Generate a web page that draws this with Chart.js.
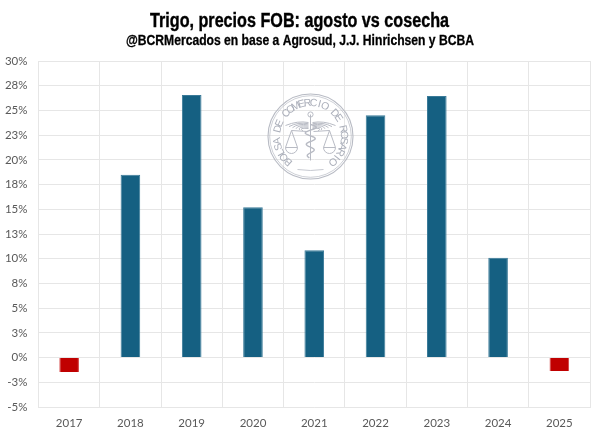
<!DOCTYPE html>
<html><head><meta charset="utf-8">
<style>html,body{margin:0;padding:0;background:#fff}canvas{display:block}</style>
<script src="https://cdn.jsdelivr.net/npm/chart.js@4"></script>
</head><body><canvas id="c" width="600" height="436"></canvas>
<script>
const categories=["2017","2018","2019","2020","2021","2022","2023","2024","2025"];
const values=[-1.45,18.5,26.55,15.2,10.85,24.5,26.45,10.1,-1.35];
const yTickLabels=["30%","28%","25%","23%","20%","18%","15%","13%","10%","8%","5%","3%","0%","-3%","-5%"];
const titleText="Trigo, precios FOB: agosto vs cosecha";
const subtitleText="@BCRMercados en base a Agrosud, J.J. Hinrichsen y BCBA";
const sealText="BOLSA DE COMERCIO DE ROSARIO";
const POS="#156082",NEG="#C00000",POSB="#3A7A98",NEGB="#D23A3A",GRID="#E6E6E6",TICK="#595959";

function narrowText(g,text,font,centerX,baseY,targetW,heavy){
  g.save();g.font=font;g.fillStyle="#000";g.strokeStyle="#000";g.lineWidth=heavy;g.textAlign="left";g.textBaseline="alphabetic";
  const k=targetW/g.measureText(text).width;
  g.translate(centerX-targetW/2,baseY);g.scale(k,1);g.fillText(text,0,0);g.strokeText(text,0,0);g.restore();
}
const headings={id:"headings",afterDraw(chart){
  const g=chart.ctx;
  narrowText(g,titleText,"bold 20px 'Liberation Sans'",299.5,27,299,.4);
  narrowText(g,subtitleText,"bold 14px 'Liberation Sans'",300,45,348,.3);
}};
const seal={id:"seal",beforeDatasetsDraw(chart){
  const g=chart.ctx,cx=310.5,cy=136.5;
  g.save();g.strokeStyle="#B8BBC4";g.fillStyle="#ABAFBA";g.lineWidth=1.1;
  g.beginPath();g.arc(cx,cy,42.5,0,Math.PI*2);g.stroke();
  g.lineWidth=.7;g.beginPath();g.arc(cx,cy,40.8,0,Math.PI*2);g.stroke();
  g.font="10.5px 'Liberation Sans'";g.textAlign="center";g.textBaseline="alphabetic";
  const n=sealText.length,span=Math.PI*1.54,start=-span/2;
  for(let i=0;i<n;i++){const a=start+span*i/(n-1);g.save();g.translate(cx,cy);g.rotate(a);g.fillText(sealText[i],0,-30.5);g.restore();}
  g.lineWidth=1;
  g.beginPath();g.moveTo(cx,cy-22);g.lineTo(cx,cy+24);g.stroke();
  g.beginPath();g.arc(cx,cy-22,2.6,0,Math.PI*2);g.stroke();
  for(const s of[-1,1]){
    for(let k=0;k<6;k++){g.beginPath();g.moveTo(cx+s*2,cy-14+k*1.2);g.quadraticCurveTo(cx+s*13,cy-16+k*1.4,cx+s*(25-k*3.5),cy-11+k*1.1);g.stroke();}
    g.beginPath();g.moveTo(cx+s*3,cy-5);g.lineTo(cx+s*19,cy-6);g.stroke();
    g.beginPath();g.moveTo(cx+s*19,cy-6);g.lineTo(cx+s*13,cy+11);g.moveTo(cx+s*19,cy-6);g.lineTo(cx+s*25,cy+11);g.stroke();
    g.beginPath();g.arc(cx+s*19,cy+11,6,0,Math.PI);g.closePath();g.stroke();
  }
  g.lineWidth=1.4;g.beginPath();
  for(let t=0;t<=1;t+=.02){const y=cy-12+t*34,x=cx+6*(1-t*.5)*Math.sin(t*Math.PI*6);t===0?g.moveTo(x,y):g.lineTo(x,y);}
  g.stroke();
  g.lineWidth=.8;g.beginPath();g.moveTo(cx-13,cy+33);g.quadraticCurveTo(cx,cy+35,cx+13,cy+33);g.stroke();
  g.restore();
}};

new Chart(document.getElementById("c"),{
  type:"bar",
  data:{labels:categories,datasets:[{data:values,
    backgroundColor:values.map(v=>v<0?NEG:POS),
    borderColor:values.map(v=>v<0?NEGB:POSB),borderWidth:{top:1,left:1,right:1,bottom:0},
    categoryPercentage:1,barPercentage:0.32}]},
  plugins:[seal,headings],
  options:{responsive:false,animation:false,devicePixelRatio:1,
    layout:{padding:{top:61,left:0,right:10,bottom:0}},
    plugins:{legend:{display:false},tooltip:{enabled:false},title:{display:false},subtitle:{display:false}},
    scales:{
      x:{afterFit(a){a.height=29;},grid:{color:GRID,lineWidth:1,drawTicks:false,offset:true},border:{color:GRID},
        ticks:{color:TICK,font:{family:"Lato",size:11.5},padding:9,maxRotation:0,autoSkip:false}},
      y:{min:-5,max:30,afterBuildTicks(a){a.ticks=yTickLabels.map((_,i)=>({value:30-i*2.5})).reverse();},
        afterFit(a){a.width=38.5;},
        grid:{color:GRID,lineWidth:1,drawTicks:false},border:{color:GRID},
        ticks:{color:TICK,font:{family:"Lato",size:11.5},padding:11,autoSkip:false,
          callback(v,i){return yTickLabels[yTickLabels.length-1-i];}}}
    }
  }
});
</script></body></html>
